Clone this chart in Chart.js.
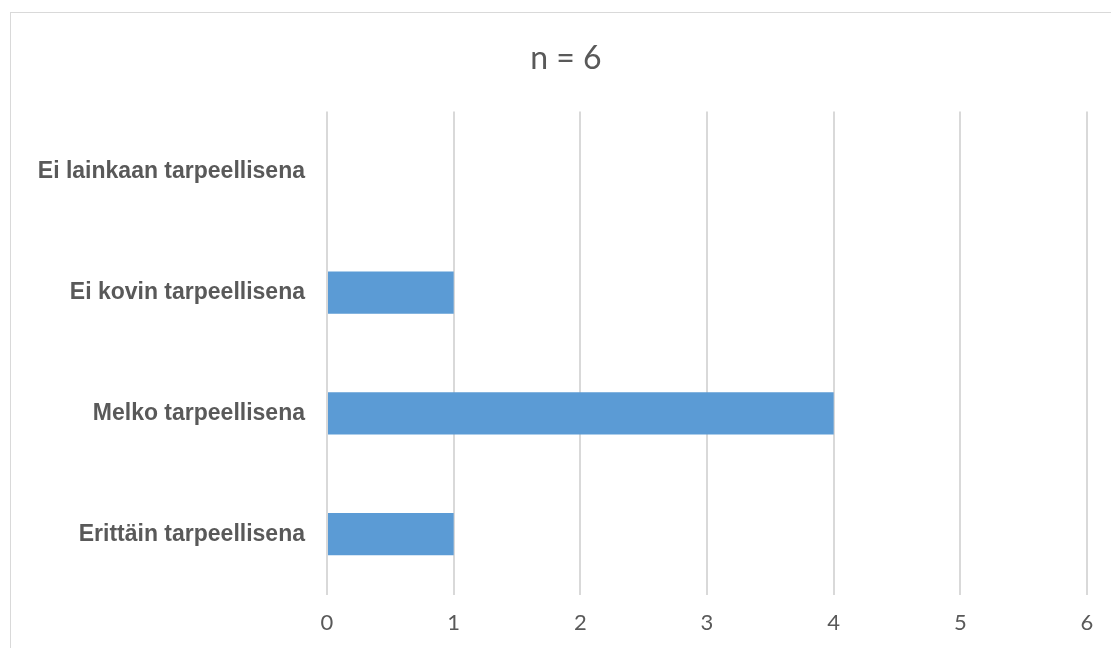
<!DOCTYPE html>
<html>
<head>
<meta charset="utf-8">
<script src="https://cdn.jsdelivr.net/npm/chart.js@4/dist/chart.umd.min.js"></script>
<style>
  html, body { margin: 0; padding: 0; background: #fff; overflow: hidden; }
  body { width: 1111px; height: 648px; position: relative; }
  #frame {
    position: absolute; left: 10px; top: 12px;
    width: 1110px; height: 660px;
    border: 1px solid #d9d9d9; background: #fff;
  }
  #frame canvas { display: block; }
</style>
</head>
<body>
<div id="frame"><canvas id="chart" width="1110" height="660"></canvas></div>
<script>
// Survey answers: how necessary the respondents found it
const categories = [
  'Ei lainkaan tarpeellisena',
  'Ei kovin tarpeellisena',
  'Melko tarpeellisena',
  'Erittäin tarpeellisena'
];
const counts = [0, 1, 4, 1];
const titleText = 'n = 6';
const axisMin = 0;
const axisMax = 6;

const textGray = '#595959';

// Centre the title over the whole canvas rather than the padded box
const fullWidthTitle = {
  id: 'fullWidthTitle',
  afterLayout(chart) {
    const t = chart.titleBlock;
    if (t) {
      t.left = 0;
      t.right = chart.width;
      t.width = chart.width;
    }
  }
};

new Chart(document.getElementById('chart'), {
  type: 'bar',
  data: {
    labels: categories,
    datasets: [{
      data: counts,
      backgroundColor: '#5B9BD5',
      borderWidth: 0,
      barPercentage: 0.35,
      categoryPercentage: 1
    }]
  },
  plugins: [fullWidthTitle],
  options: {
    indexAxis: 'y',
    responsive: false,
    animation: false,
    devicePixelRatio: 1,
    layout: { padding: { left: 0, right: 34, top: 0, bottom: 22 } },
    plugins: {
      legend: { display: false },
      tooltip: { enabled: false },
      title: {
        display: true,
        text: titleText,
        color: textGray,
        font: { family: 'Lato', size: 32, weight: 'normal' },
        padding: { top: 26, bottom: 34 }
      }
    },
    scales: {
      x: {
        min: axisMin,
        max: axisMax,
        ticks: {
          stepSize: 1,
          color: textGray,
          font: { family: 'Lato', size: 22 },
          padding: 15
        },
        grid: { color: '#d9d9d9', lineWidth: 2, drawTicks: false },
        border: { display: false }
      },
      y: {
        ticks: {
          color: textGray,
          font: { family: 'Liberation Sans', size: 23, weight: 'bold' },
          padding: 22
        },
        grid: { display: false, drawTicks: false },
        border: { display: false },
        afterFit(scale) { scale.width = 316; }
      }
    }
  }
});
</script>
</body>
</html>
